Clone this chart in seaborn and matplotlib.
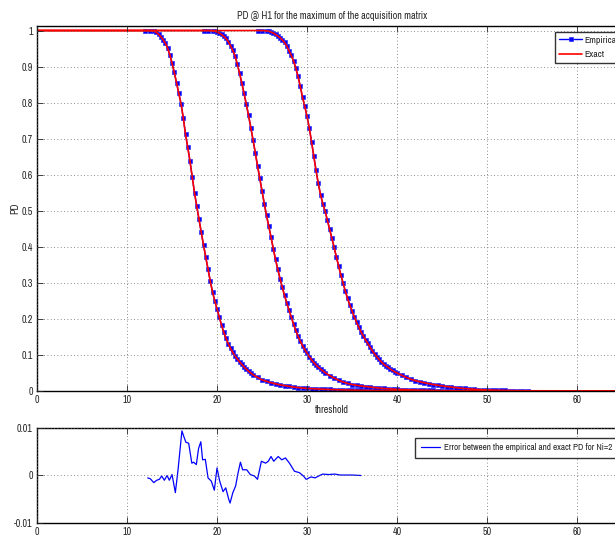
import numpy as np
import pandas as pd
import matplotlib
matplotlib.use("Agg")
import matplotlib.pyplot as plt
import seaborn as sns
from matplotlib import font_manager

# === Données ===
# courbe 1 (PD empirique)
thr_1 = [12.0, 12.5, 13.0, 13.25, 13.5, 13.75, 14.0, 14.25, 14.5, 14.75,
         15.0, 15.25, 15.5, 15.75, 16.0, 16.25, 16.5, 16.75, 17.0, 17.25,
         17.5, 17.75, 18.0, 18.25, 18.5, 18.75, 19.0, 19.25, 19.5, 19.75,
         20.0, 20.25, 20.5, 20.75, 21.0, 21.25, 21.5, 21.75, 22.0, 22.25,
         22.5, 22.75, 23.0, 23.25, 23.5, 23.75, 24.0, 24.5, 25.0, 25.5,
         26.0, 26.5, 27.0, 27.5, 28.0, 28.5, 29.0, 29.5, 30.0, 30.5,
         31.0, 31.5, 32.0, 32.5, 33.0, 33.5, 34.0, 34.5, 35.0, 35.5,
         36.0, 36.5, 37.0, 37.5, 38.0, 38.5, 39.0, 39.5, 40.0, 40.5,
         41.0, 41.5, 42.0]
pd_1 = [1.0, 0.9995, 0.998, 0.995, 0.99, 0.983, 0.975, 0.965, 0.952, 0.933,
        0.91, 0.884, 0.855, 0.826, 0.797, 0.758, 0.712, 0.676, 0.637, 0.593,
        0.55, 0.512, 0.476, 0.44, 0.405, 0.371, 0.338, 0.305, 0.275, 0.25,
        0.228, 0.205, 0.183, 0.163, 0.146, 0.131, 0.118, 0.107, 0.097, 0.089,
        0.081, 0.074, 0.067, 0.061, 0.055, 0.05, 0.045, 0.038, 0.031, 0.027,
        0.023, 0.02, 0.017, 0.015, 0.013, 0.011, 0.0095, 0.0082, 0.0072, 0.0065,
        0.0058, 0.0052, 0.0047, 0.0042, 0.0038, 0.0034, 0.003, 0.0027, 0.0024, 0.0021,
        0.0019, 0.0017, 0.0015, 0.0013, 0.0012, 0.001, 0.0009, 0.0008, 0.0007, 0.0006,
        0.0005, 0.0004, 0.0004]

# courbe 2
thr_2 = [18.5, 19.0, 19.5, 19.75, 20.0, 20.25, 20.5, 20.75, 21.0, 21.25,
         21.5, 21.75, 22.0, 22.25, 22.5, 22.75, 23.0, 23.25, 23.5, 23.75,
         24.0, 24.25, 24.5, 24.75, 25.0, 25.25, 25.5, 25.75, 26.0, 26.25,
         26.5, 26.75, 27.0, 27.25, 27.5, 27.75, 28.0, 28.25, 28.5, 28.75,
         29.0, 29.25, 29.5, 29.75, 30.0, 30.25, 30.5, 30.75, 31.0, 31.25,
         31.5, 31.75, 32.0, 32.5, 33.0, 33.5, 34.0, 34.5, 35.0, 35.5,
         36.0, 36.5, 37.0, 37.5, 38.0, 38.5, 39.0, 39.5, 40.0, 40.5,
         41.0, 41.5, 42.0, 42.5, 43.0, 43.5, 44.0, 44.5, 45.0, 45.5,
         46.0, 46.5, 47.0, 47.5, 48.0]
pd_2 = [1.0, 1.0, 0.999, 0.998, 0.996, 0.993, 0.989, 0.984, 0.978, 0.969,
        0.958, 0.945, 0.93, 0.907, 0.882, 0.855, 0.826, 0.796, 0.765, 0.731,
        0.697, 0.661, 0.625, 0.59, 0.555, 0.52, 0.487, 0.457, 0.427, 0.395,
        0.365, 0.338, 0.312, 0.288, 0.265, 0.244, 0.225, 0.205, 0.186, 0.168,
        0.152, 0.138, 0.126, 0.115, 0.105, 0.095, 0.087, 0.079, 0.072, 0.066,
        0.061, 0.056, 0.051, 0.043, 0.036, 0.03, 0.025, 0.021, 0.018, 0.016,
        0.014, 0.0125, 0.011, 0.0095, 0.0082, 0.0071, 0.0062, 0.0054, 0.0047, 0.0041,
        0.0036, 0.0031, 0.0027, 0.0024, 0.0021, 0.0018, 0.0016, 0.0014, 0.0012, 0.001,
        0.0009, 0.0008, 0.0007, 0.0006, 0.0005]

# courbe 3
thr_3 = [24.5, 25.0, 25.5, 25.75, 26.0, 26.25, 26.5, 26.75, 27.0, 27.25,
         27.5, 27.75, 28.0, 28.25, 28.5, 28.75, 29.0, 29.25, 29.5, 29.75,
         30.0, 30.25, 30.5, 30.75, 31.0, 31.25, 31.5, 31.75, 32.0, 32.25,
         32.5, 32.75, 33.0, 33.25, 33.5, 33.75, 34.0, 34.25, 34.5, 34.75,
         35.0, 35.25, 35.5, 35.75, 36.0, 36.25, 36.5, 36.75, 37.0, 37.25,
         37.5, 37.75, 38.0, 38.25, 38.5, 38.75, 39.0, 39.25, 39.5, 39.75,
         40.0, 40.5, 41.0, 41.5, 42.0, 42.5, 43.0, 43.5, 44.0, 44.5,
         45.0, 45.5, 46.0, 46.5, 47.0, 47.5, 48.0, 48.5, 49.0, 49.5,
         50.0, 50.5, 51.0, 51.5, 52.0, 52.5, 53.0, 53.5, 54.0, 54.5]
pd_3 = [1.0, 1.0, 0.999, 0.998, 0.996, 0.993, 0.989, 0.985, 0.98, 0.974,
        0.967, 0.957, 0.944, 0.931, 0.916, 0.896, 0.873, 0.845, 0.815, 0.79,
        0.762, 0.73, 0.692, 0.652, 0.612, 0.576, 0.545, 0.52, 0.5, 0.475,
        0.45, 0.425, 0.4, 0.373, 0.348, 0.323, 0.3, 0.278, 0.257, 0.239,
        0.222, 0.206, 0.191, 0.177, 0.164, 0.153, 0.142, 0.132, 0.122, 0.112,
        0.103, 0.095, 0.088, 0.081, 0.075, 0.07, 0.066, 0.061, 0.057, 0.053,
        0.05, 0.044, 0.038, 0.033, 0.029, 0.026, 0.023, 0.0205, 0.018, 0.016,
        0.014, 0.0125, 0.011, 0.0095, 0.008, 0.007, 0.006, 0.005, 0.004, 0.0035,
        0.003, 0.0026, 0.0022, 0.0019, 0.0016, 0.0013, 0.0011, 0.0009, 0.0008, 0.0007]

# erreur entre PD empirique et exacte (Ni=2)
err_x = [12.3, 12.6, 12.97, 13.3, 13.6, 13.85, 14.15, 14.45, 14.7, 15.0,
         15.37, 15.67, 16.1, 16.33, 16.54, 16.85, 17.2, 17.4, 17.7, 17.95,
         18.2, 18.4, 18.7, 19.0, 19.37, 19.7, 20.0, 20.3, 20.67, 20.97,
         21.3, 21.45, 21.76, 22.07, 22.3, 22.6, 22.85, 23.3, 23.7, 24.15,
         24.5, 24.93, 25.4, 25.7, 26.0, 26.3, 26.8, 27.2, 27.6, 28.05,
         28.6, 29.15, 29.6, 29.9, 30.45, 30.9, 31.3, 31.75, 32.4, 33.06,
         33.7, 34.4, 35.0, 36.0]
err_y = [-0.0005, -0.0007, -0.0015, -0.001, -0.0008, -0.0001, -0.001, 0.0, -0.001, 0.0002,
         -0.0036, 0.0012, 0.0094, 0.0081, 0.007, 0.0068, 0.0026, 0.0028, 0.0023, 0.0057,
         0.0071, 0.0033, 0.0034, -0.0005, -0.0012, -0.0031, 0.0016, -0.0012, -0.0034, -0.0026,
         -0.005, -0.0058, -0.0036, -0.0022, 0.0002, 0.0028, 0.0012, 0.0012, 0.0002, -0.0001,
         -0.0008, 0.003, 0.0026, 0.003, 0.004, 0.003, 0.004, 0.0033, 0.0037, 0.0026,
         0.0009, 0.0006, -0.0001, -0.0008, -0.0003, -0.0005, -0.0001, 0.0003, 0.0002, 0.0003,
         0.0001, 0.0001, 0.0001, 0.0]

x_min, x_max = 0, 65.5

# === Style ===
sns.set_style("white")
noms = {f.name for f in font_manager.fontManager.ttflist}
if "Archivo Narrow" in noms:
    police, taille, taille_leg = "Archivo Narrow", 7.2, 6.6
else:
    police, taille, taille_leg = "Liberation Sans", 6.3, 5.8
plt.rcParams["font.family"] = [police, "DejaVu Sans"]
plt.rcParams["axes.unicode_minus"] = False

W, H = 615, 540
fig = plt.figure(figsize=(W / 100, H / 100), dpi=100)
ax1 = fig.add_axes([0.0602, 0.2759, 0.9585, 0.6759])
ax2 = fig.add_axes([0.0602, 0.0315, 0.9585, 0.1759])

courbes = [(thr_1, pd_1), (thr_2, pd_2), (thr_3, pd_3)]

# empirique (bleu, marqueurs)
for i, (t, y) in enumerate(courbes):
    df = pd.DataFrame({"threshold": t, "PD": y})
    sns.lineplot(data=df, x="threshold", y="PD", ax=ax1, color="#0000ff",
                 linewidth=1.0, marker="s", markersize=2.8, markeredgewidth=0.5,
                 markeredgecolor="#3030ff", sort=False, estimator=None,
                 label="Empirical" if i == 0 else None)

# exact (rouge), prolonge jusqu'aux bords de l'axe
for i, (t, y) in enumerate(courbes):
    df = pd.DataFrame({"threshold": [x_min] + t + [x_max],
                       "PD": [1.0] + y + [0.0]})
    sns.lineplot(data=df, x="threshold", y="PD", ax=ax1, color="#ff0000",
                 linewidth=1.2, sort=False, estimator=None,
                 label="Exact" if i == 0 else None)

sns.lineplot(x=err_x, y=err_y, ax=ax2, color="#0000ff", linewidth=0.9,
             sort=False, estimator=None,
             label="Error between the empirical and exact PD for Ni=2")

# === Axes ===
ax1.set_xlim(x_min, x_max)
ax1.set_ylim(0, 1.0125)
ax1.set_xticks(np.arange(0, 70, 10))
ax1.set_yticks(np.arange(0, 1.01, 0.1))
ax1.set_yticklabels([f"{v:g}" for v in np.round(np.arange(0, 1.01, 0.1), 1)])
ax1.set_title("PD @ H1 for the maximum of the acquisition matrix", fontsize=taille, pad=5)
ax1.set_xlabel("threshold", fontsize=taille, labelpad=0)
ax1.set_ylabel("PD", fontsize=taille, labelpad=1)

ax2.set_xlim(x_min, x_max)
ax2.set_ylim(-0.01, 0.01)
ax2.set_xticks(np.arange(0, 70, 10))
ax2.set_yticks([-0.01, 0, 0.01])
ax2.set_yticklabels(["-0.01", "0", "0.01"])
ax2.set_xlabel("")
ax2.set_ylabel("")

for ax in (ax1, ax2):
    ax.grid(True, linestyle=(0, (1, 3)), color="#666666", linewidth=0.6)
    ax.tick_params(direction="in", length=4, width=0.6, labelsize=taille, pad=3,
                   top=True, right=True, bottom=True, left=True)
    for sp in ax.spines.values():
        sp.set_visible(True)
        sp.set_color("black")
        sp.set_linewidth(1.0)
    ax.set_axisbelow(False)

# legendes ancrees par leur coin haut-gauche (en pixels de la figure)
leg1 = ax1.legend(loc="upper left", bbox_to_anchor=(555 / W, 1 - 32 / H),
                  bbox_transform=fig.transFigure, borderaxespad=0,
                  fontsize=taille_leg + 0.4, frameon=True, fancybox=False,
                  handlelength=2.4, borderpad=0.4, labelspacing=0.55,
                  handletextpad=0.25)
leg1.get_frame().set_edgecolor("black")
leg1.get_frame().set_linewidth(1.0)

leg2 = ax2.legend(loc="upper left", bbox_to_anchor=(415 / W, 1 - 438 / H),
                  bbox_transform=fig.transFigure, borderaxespad=0,
                  fontsize=taille_leg, frameon=True, fancybox=False,
                  handlelength=2.1, borderpad=0.6, handletextpad=0.45)
leg2.get_frame().set_edgecolor("black")
leg2.get_frame().set_linewidth(1.0)

fig.savefig("out.png", dpi=100)
plt.close()
